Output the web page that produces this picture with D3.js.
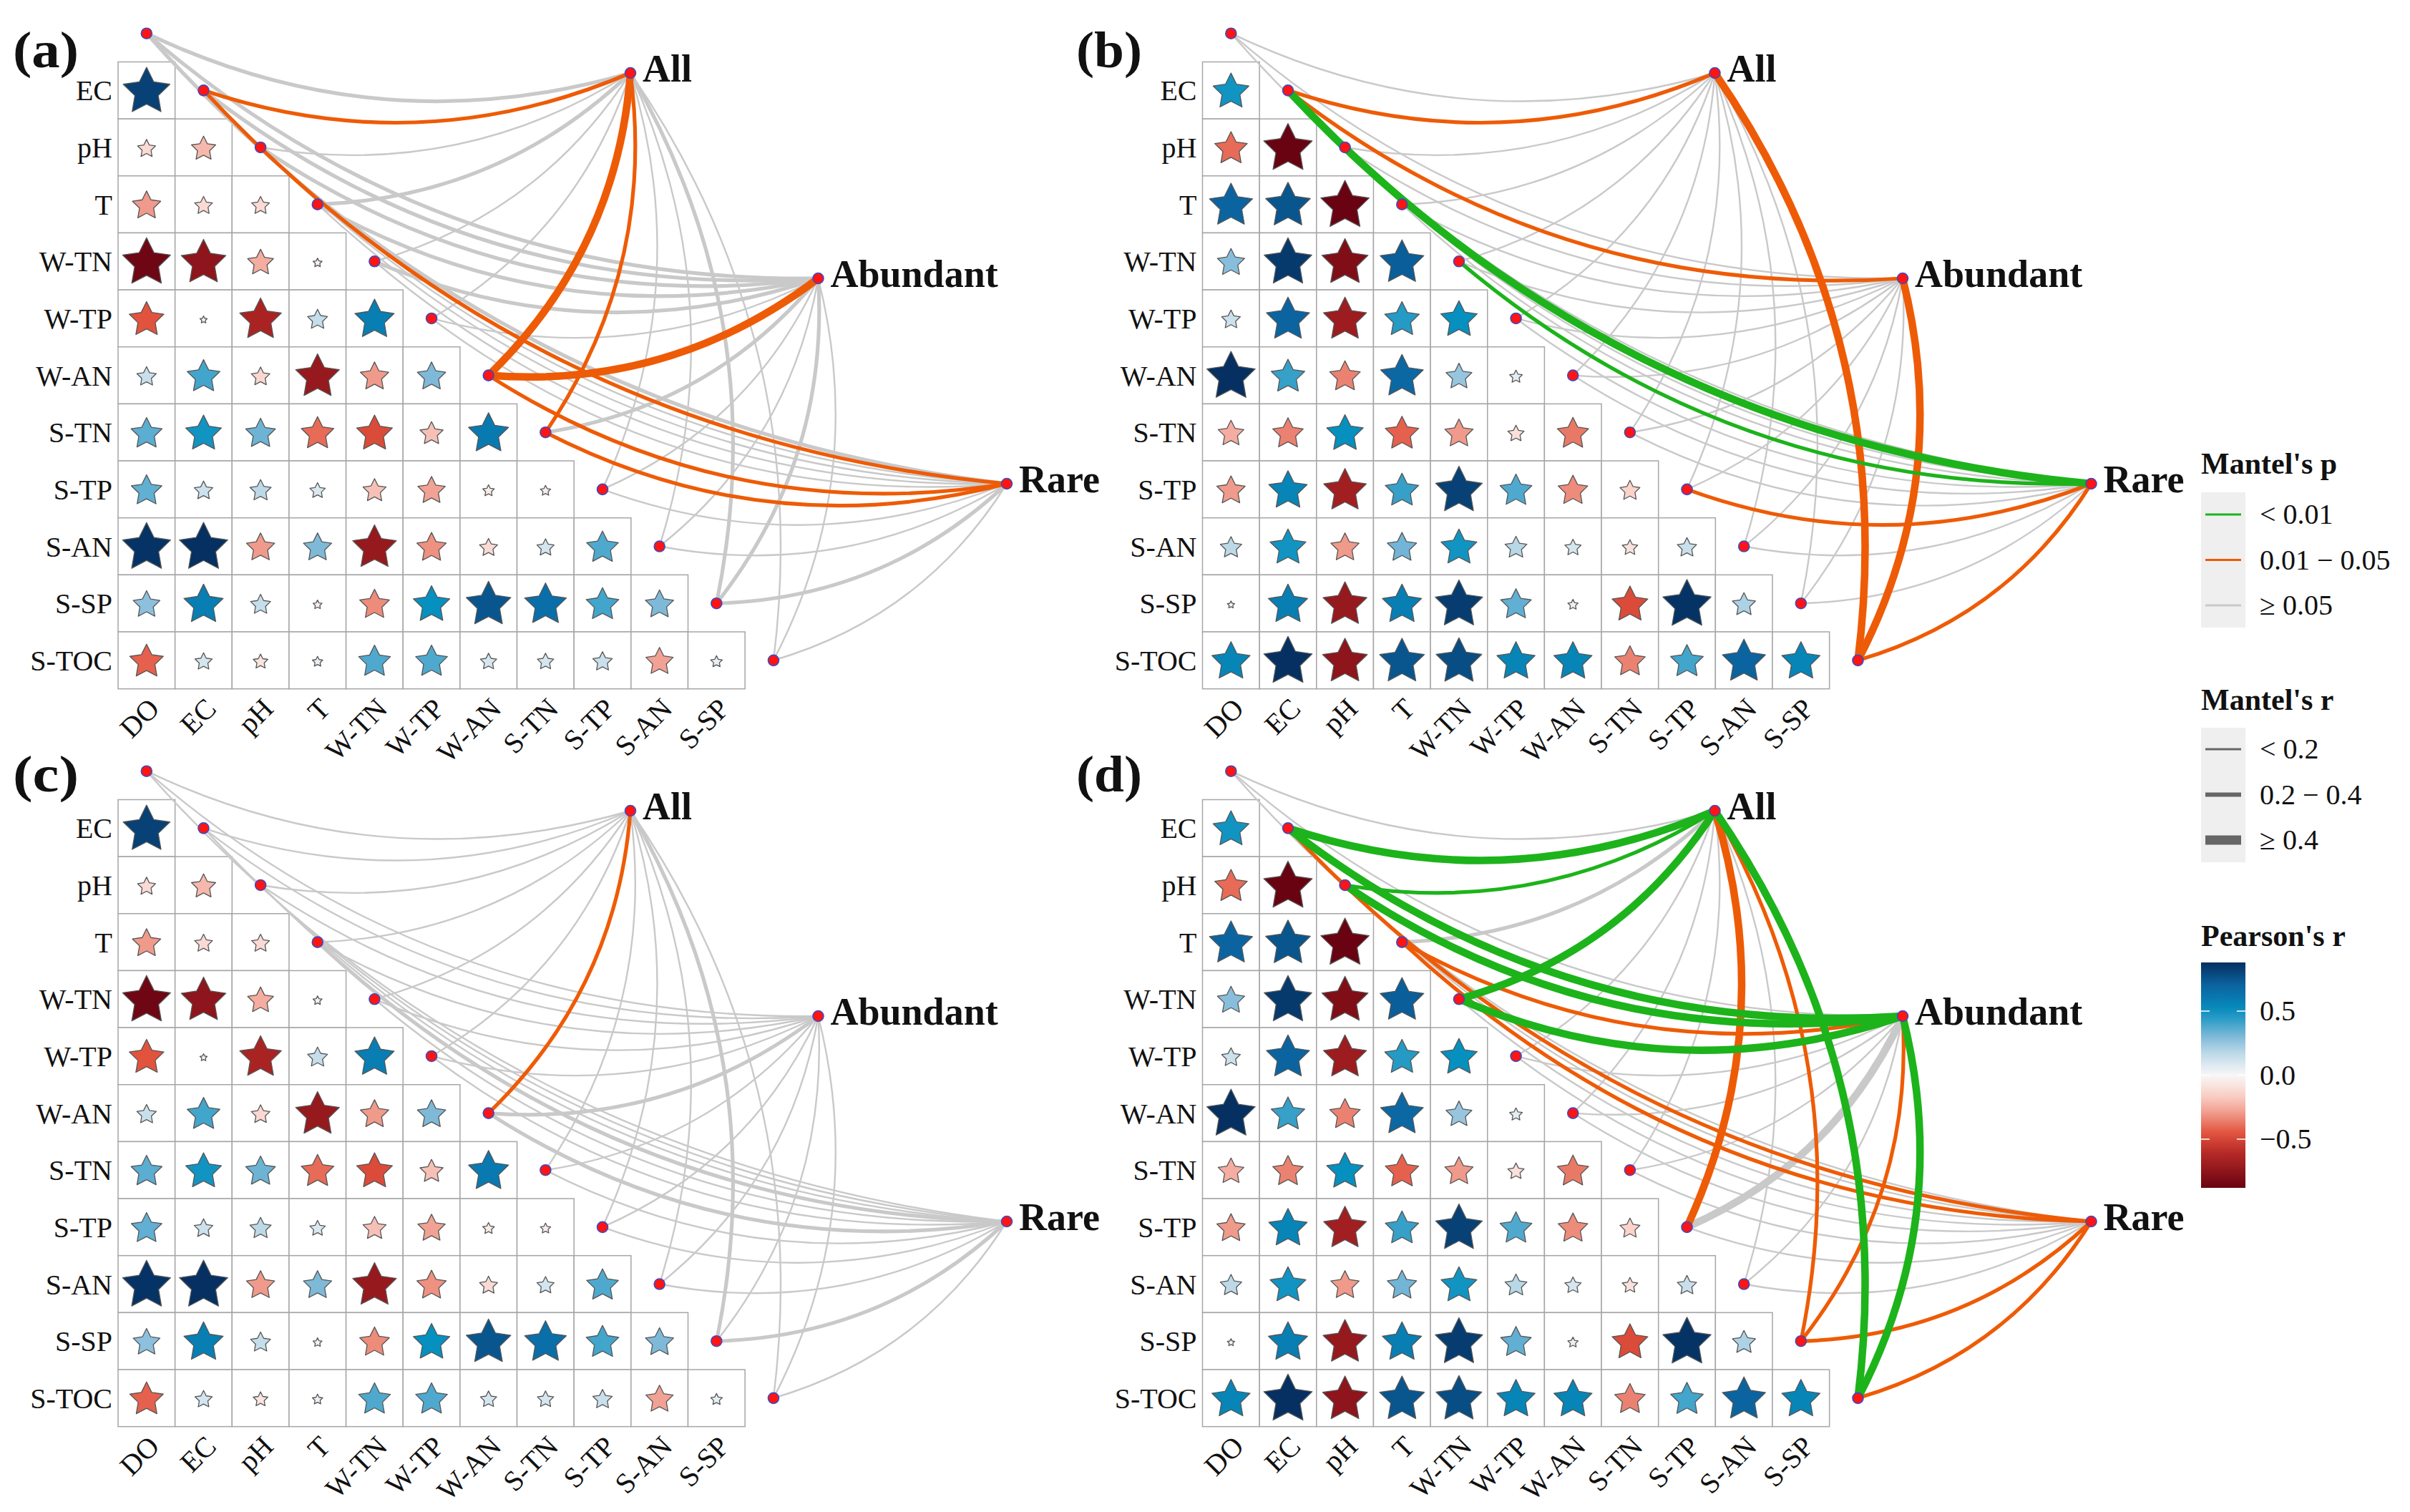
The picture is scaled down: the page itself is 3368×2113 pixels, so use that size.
<!DOCTYPE html>
<html lang="en">
<head>
<meta charset="utf-8">
<script src="https://d3js.org/d3.v7.min.js"></script>
<title>mantel</title>
<style>
  body { margin: 0; background: #fff; }
  text { font-family: "Liberation Serif", "Times New Roman", serif; fill: #111; }
</style>
</head>
<body>
<script>
var width = 3368, height = 2113;
var svg = d3.select("body").append("svg").attr("width", width).attr("height", height);

// environmental variables
var vars = ["DO", "EC", "pH", "T", "W-TN", "W-TP", "W-AN", "S-TN", "S-TP", "S-AN", "S-SP", "S-TOC"];
var rowVars = vars.slice(1);
var colVars = vars.slice(0, 11);
var targets = ["All", "Abundant", "Rare"];

// Pearson's r, lower triangle, rows EC .. S-TOC
var corrA = [
  [0.82],
  [-0.12, -0.22],
  [-0.30, -0.12, -0.12],
  [-0.86, -0.75, -0.25, -0.03],
  [-0.45, 0.02, -0.65, 0.15, 0.58],
  [0.14, 0.40, -0.13, -0.72, -0.30, 0.30],
  [0.36, 0.48, 0.33, -0.40, -0.48, -0.20, 0.60],
  [0.35, 0.13, 0.17, 0.09, -0.20, -0.28, -0.05, -0.04],
  [0.87, 0.88, -0.30, 0.30, -0.72, -0.32, -0.12, 0.11, 0.38],
  [0.27, 0.58, 0.15, -0.03, -0.33, 0.50, 0.75, 0.65, 0.40, 0.30],
  [-0.42, 0.11, -0.08, 0.04, 0.38, 0.38, 0.10, 0.10, 0.14, -0.28, 0.05]
];
var corrB = [
  [0.48],
  [-0.40, -0.88],
  [0.70, 0.75, -0.88],
  [0.28, 0.85, -0.80, 0.72],
  [0.13, 0.70, -0.70, 0.45, 0.50],
  [0.88, 0.42, -0.35, 0.68, 0.25, 0.06],
  [-0.25, -0.35, 0.50, -0.42, -0.30, -0.10, -0.37],
  [-0.30, 0.55, -0.68, 0.42, 0.82, 0.38, -0.33, -0.15],
  [0.17, 0.48, -0.30, 0.32, 0.48, 0.18, 0.10, -0.09, 0.14],
  [-0.02, 0.58, -0.72, 0.58, 0.84, 0.35, 0.04, -0.48, 0.87, 0.20],
  [0.55, 0.88, -0.75, 0.75, 0.78, 0.55, 0.55, -0.35, 0.40, 0.70, 0.55]
];

// Mantel's p class: 0 "< 0.01", 1 "0.01 - 0.05", 2 ">= 0.05"   (rows: All, Abundant, Rare; cols: vars)
// Mantel's r class: 0 "< 0.2", 1 "0.2 - 0.4", 2 ">= 0.4"
var pA = [[2,1,2,2,2,2,1,1,2,2,2,2], [2,2,2,2,2,2,1,2,2,2,2,2], [2,1,2,2,2,2,1,1,2,2,2,2]];
var rA = [[1,1,0,1,0,0,2,1,0,0,1,0], [1,1,1,1,1,0,2,1,0,0,1,0], [1,1,0,0,0,0,1,1,0,0,1,0]];
var pB = [[2,1,2,2,2,2,2,2,2,2,2,1], [2,1,2,2,2,2,2,2,2,2,2,1], [2,0,2,2,0,2,2,2,1,2,2,1]];
var rB = [[0,1,0,0,0,0,0,0,0,0,0,2], [0,1,0,0,0,0,0,0,0,0,0,2], [0,2,0,0,1,0,0,0,1,0,0,1]];
var pC = [[2,2,2,2,2,2,1,2,2,2,2,2], [2,2,2,2,2,2,2,2,2,2,2,2], [2,2,2,2,2,2,2,2,2,2,2,2]];
var rC = [[0,0,0,0,0,0,1,0,0,0,1,0], [0,0,0,0,0,0,1,0,0,0,0,0], [0,0,0,1,0,0,1,0,0,0,1,0]];
var pD = [[2,0,0,2,0,2,2,2,1,2,1,0], [2,0,0,1,0,2,2,2,2,2,1,0], [2,1,2,1,2,2,2,2,2,2,1,1]];
var rD = [[0,2,1,1,2,0,0,0,2,0,1,2], [0,2,2,1,2,0,0,0,2,0,1,2], [0,1,0,1,0,0,0,0,0,0,1,1]];

var pLabels = ["< 0.01", "0.01 \u2212 0.05", "\u2265 0.05"];
var rLabels = ["< 0.2", "0.2 \u2212 0.4", "\u2265 0.4"];
var colorTicks = [0.5, 0.0, -0.5];

var pColors = ["#1db31b", "#ee5b06", "#c9c9c9"];
var rWidths = [2.4, 5.2, 10.5];

var panels = [
  {label: "(a)", dx: 0,      dy: 0,    ly: 94,   corr: corrA, p: pA, r: rA},
  {label: "(b)", dx: 1515.5, dy: 0,    ly: 94,   corr: corrB, p: pB, r: rB},
  {label: "(c)", dx: 0,      dy: 1031, ly: 1106, corr: corrA, p: pC, r: rC},
  {label: "(d)", dx: 1515.5, dy: 1031, ly: 1106, corr: corrB, p: pD, r: rD}
];

// colour scale for Pearson's r
var allR = corrA.flat().concat(corrB.flat());
var ext = d3.extent(allR);
var color = d3.scaleLinear()
  .domain([ext[0], -0.6, -0.45, -0.3, -0.15, 0, 0.15, 0.3, 0.5, 0.7, ext[1]])
  .range(["#690311", "#b82a27", "#e2533d", "#f09a8b", "#fbd3cb", "#f7f7f7", "#c6deeb", "#7fb9d8", "#0690bf", "#0b64a0", "#053061"])
  .interpolate(d3.interpolateRgb);
var rmax = d3.max(allR, function(d) { return Math.abs(d); });
var size = d3.scaleSqrt().domain([0, rmax]).range([0, 35.5]);

function starPath(R) {
  var p = d3.path();
  for (var k = 0; k < 10; k++) {
    var a = -Math.PI / 2 + k * Math.PI / 5;
    var rr = k % 2 ? R * 0.5 : R;
    if (k == 0) p.moveTo(rr * Math.cos(a), rr * Math.sin(a));
    else p.lineTo(rr * Math.cos(a), rr * Math.sin(a));
  }
  p.closePath();
  return p.toString();
}

function curve(x1, y1, x2, y2) {
  var dx = x2 - x1, dy = y2 - y1;
  var k = 0.19;
  var p = d3.path();
  p.moveTo(x1, y1);
  p.quadraticCurveTo((x1 + x2) / 2 + k * dy, (y1 + y2) / 2 - k * dx, x2, y2);
  return p.toString();
}

var cell = 79.65;
var targetPos = [[716, 15.5], [978.5, 302.5], [1242, 589.5]];

panels.forEach(function(pn) {
  var left = 165 + pn.dx, top = 86.5 + pn.dy;
  var g = svg.append("g");

  var x = d3.scaleBand().domain(colVars).range([left, left + 11 * cell]);
  var y = d3.scaleBand().domain(rowVars).range([top, top + 11 * cell]);

  // cells
  var cells = [];
  pn.corr.forEach(function(row, i) {
    row.forEach(function(v, j) { cells.push({row: rowVars[i], col: colVars[j], r: v}); });
  });

  g.selectAll(".cell").data(cells).enter().append("rect")
    .attr("x", function(d) { return x(d.col); })
    .attr("y", function(d) { return y(d.row); })
    .attr("width", cell).attr("height", cell)
    .attr("fill", "#fff").attr("stroke", "#a6a6a6").attr("stroke-width", 1.5);

  g.selectAll(".star").data(cells).enter().append("path")
    .attr("transform", function(d) {
      return "translate(" + (x(d.col) + cell / 2) + "," + (y(d.row) + cell / 2 + 2) + ")";
    })
    .attr("d", function(d) { return starPath(size(Math.abs(d.r))); })
    .attr("fill", function(d) { return color(d.r); })
    .attr("stroke", "#555").attr("stroke-width", 1.3).attr("stroke-linejoin", "round");

  // axis labels
  g.selectAll(".rlab").data(rowVars).enter().append("text")
    .attr("x", left - 8)
    .attr("y", function(d) { return y(d) + cell / 2 + 14; })
    .attr("text-anchor", "end")
    .style("font-size", "40px")
    .text(function(d) { return d; });

  g.selectAll(".clab").data(colVars).enter().append("text")
    .attr("transform", function(d) {
      return "translate(" + (x(d) + cell / 2 + 20) + "," + (top + 11 * cell + 30) + ") rotate(-45)";
    })
    .attr("text-anchor", "end")
    .style("font-size", "40px")
    .text(function(d) { return d; });

  // nodes
  var nodes = vars.map(function(v, i) {
    return {name: v, x: left + (i + 0.5) * cell, y: top + (i - 0.5) * cell};
  });
  var tnodes = targets.map(function(t, i) {
    return {name: t, x: left + targetPos[i][0], y: top + targetPos[i][1]};
  });

  var links = [];
  targets.forEach(function(t, ti) {
    vars.forEach(function(v, vi) {
      links.push({s: tnodes[ti], t: nodes[vi], p: pn.p[ti][vi], r: pn.r[ti][vi]});
    });
  });
  links.sort(function(a, b) { return (b.p - a.p) || (a.r - b.r); });

  g.selectAll(".link").data(links).enter().append("path")
    .attr("d", function(d) { return curve(d.s.x, d.s.y, d.t.x, d.t.y); })
    .attr("fill", "none")
    .attr("stroke", function(d) { return pColors[d.p]; })
    .attr("stroke-width", function(d) { return rWidths[d.r]; });

  g.selectAll(".node").data(nodes.concat(tnodes)).enter().append("circle")
    .attr("cx", function(d) { return d.x; })
    .attr("cy", function(d) { return d.y; })
    .attr("r", 7.5)
    .attr("fill", "#ff1414").attr("stroke", "#3b4cc0").attr("stroke-width", 1.6);

  g.selectAll(".tlab").data(tnodes).enter().append("text")
    .attr("x", function(d) { return d.x + 17; })
    .attr("y", function(d) { return d.y + 12; })
    .style("font-size", "54px").style("font-weight", "bold")
    .text(function(d) { return d.name; });

  g.append("text")
    .attr("x", pn.dx === 0 ? 18 : 1504).attr("y", pn.ly)
    .attr("textLength", 92).attr("lengthAdjust", "spacingAndGlyphs")
    .style("font-size", "72px").style("font-weight", "bold")
    .text(pn.label);
});

// legends
var lg = svg.append("g");
var lx = 3076;

lg.append("text").attr("x", lx).attr("y", 662)
  .style("font-size", "42px").style("font-weight", "bold").text("Mantel's p");
lg.append("rect").attr("x", lx).attr("y", 688).attr("width", 62).attr("height", 189).attr("fill", "#efefef");
pLabels.forEach(function(t, i) {
  var yy = 719 + i * 63.5;
  lg.append("line").attr("x1", lx + 6).attr("x2", lx + 56).attr("y1", yy).attr("y2", yy)
    .attr("stroke", pColors[i]).attr("stroke-width", 3);
  lg.append("text").attr("x", 3158).attr("y", yy + 13).style("font-size", "40px").text(t);
});

lg.append("text").attr("x", lx).attr("y", 992)
  .style("font-size", "42px").style("font-weight", "bold").text("Mantel's r");
lg.append("rect").attr("x", lx).attr("y", 1017).attr("width", 62).attr("height", 188).attr("fill", "#efefef");
rLabels.forEach(function(t, i) {
  var yy = 1047 + i * 63.5;
  lg.append("line").attr("x1", lx + 6).attr("x2", lx + 56).attr("y1", yy).attr("y2", yy)
    .attr("stroke", "#666").attr("stroke-width", [3, 6, 13][i]);
  lg.append("text").attr("x", 3158).attr("y", yy + 13).style("font-size", "40px").text(t);
});

lg.append("text").attr("x", lx).attr("y", 1322)
  .style("font-size", "42px").style("font-weight", "bold").text("Pearson's r");

var yBar = d3.scaleLinear().domain([ext[0], ext[1]]).range([1660, 1345]);
var grad = svg.append("defs").append("linearGradient").attr("id", "cbar")
  .attr("x1", 0).attr("x2", 0).attr("y1", 1).attr("y2", 0);
d3.range(0, 1.0001, 0.05).forEach(function(t) {
  grad.append("stop").attr("offset", t).attr("stop-color", color(ext[0] + t * (ext[1] - ext[0])));
});
lg.append("rect").attr("x", lx).attr("y", 1345).attr("width", 62).attr("height", 315).attr("fill", "url(#cbar)");
colorTicks.forEach(function(v) {
  var yy = yBar(v);
  lg.append("line").attr("x1", lx).attr("x2", lx + 12).attr("y1", yy).attr("y2", yy).attr("stroke", "#fff").attr("stroke-width", 1.5);
  lg.append("line").attr("x1", lx + 50).attr("x2", lx + 62).attr("y1", yy).attr("y2", yy).attr("stroke", "#fff").attr("stroke-width", 1.5);
  lg.append("text").attr("x", 3158).attr("y", yy + 13).style("font-size", "40px")
    .text(v === 0 ? "0.0" : (v < 0 ? "\u2212" + Math.abs(v).toFixed(1) : v.toFixed(1)));
});
</script>
</body>
</html>
